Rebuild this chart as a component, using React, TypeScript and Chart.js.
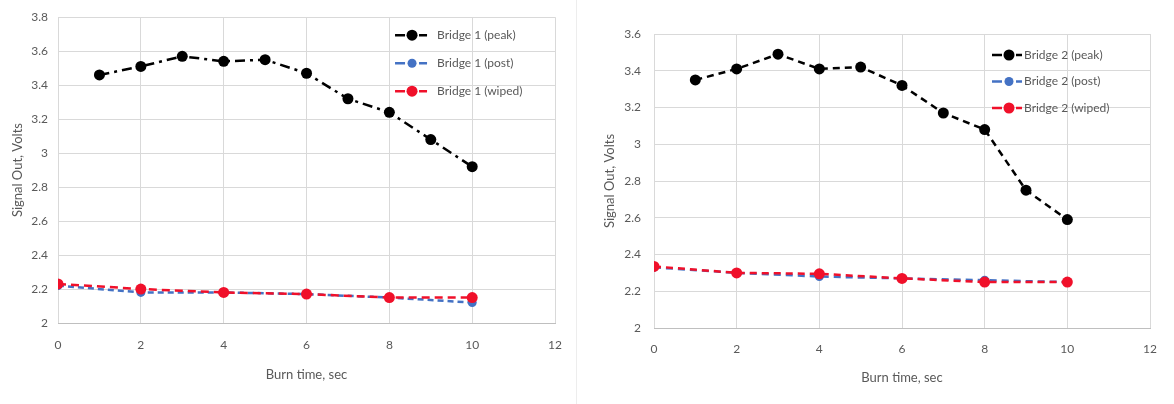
import React, { useEffect, useRef } from "react";
import { Chart, registerables } from "chart.js";

Chart.register(...registerables);

// ---- Data ----
const peakTimes = [1, 2, 3, 4, 5, 6, 7, 8, 9, 10];
const postWipedTimes = [0, 2, 4, 6, 8, 10];

const bridge1Peak = [3.46, 3.51, 3.57, 3.54, 3.55, 3.47, 3.32, 3.24, 3.08, 2.92];
const bridge1Post = [2.22, 2.18, 2.18, 2.17, 2.15, 2.12];
const bridge1Wiped = [2.23, 2.2, 2.18, 2.17, 2.15, 2.15];

const bridge2Peak = [3.35, 3.41, 3.49, 3.41, 3.42, 3.32, 3.17, 3.08, 2.75, 2.59];
const bridge2Post = [2.33, 2.3, 2.28, 2.27, 2.26, 2.25];
const bridge2Wiped = [2.335, 2.3, 2.295, 2.27, 2.25, 2.25];

const bridge1Labels = ["Bridge 1 (peak)", "Bridge 1 (post)", "Bridge 1 (wiped)"];
const bridge2Labels = ["Bridge 2 (peak)", "Bridge 2 (post)", "Bridge 2 (wiped)"];

const xTitle = "Burn time, sec";
const yTitle = "Signal Out, Volts";

const FONT = "Lato, 'Liberation Sans', sans-serif";
const TEXT_COLOR = "#595959";
const BLACK = "#000000";
const BLUE = "#4472c4";
const RED = "#f0102a";

const toPoints = (xs: number[], ys: number[]) => xs.map((x, i) => ({ x, y: ys[i] }));

const inChartLegend = {
  id: "inChartLegend",
  afterDraw(chart: any, _args: any, opts: any) {
    const { ctx, chartArea } = chart;
    const mx = chartArea.right - opts.dx;
    chart.data.datasets.forEach((ds: any, i: number) => {
      const y = chartArea.top + opts.top + i * opts.gap;
      ctx.save();
      ctx.strokeStyle = ds.borderColor;
      ctx.lineWidth = 2.5;
      ctx.setLineDash([]);
      ctx.beginPath();
      ctx.moveTo(mx - opts.segOuter, y);
      ctx.lineTo(mx - opts.segInner, y);
      ctx.moveTo(mx + opts.segInner, y);
      ctx.lineTo(mx + opts.segOuterR, y);
      ctx.stroke();
      ctx.fillStyle = ds.pointBackgroundColor;
      ctx.beginPath();
      ctx.arc(mx, y, ds.pointRadius, 0, Math.PI * 2);
      ctx.fill();
      ctx.fillStyle = TEXT_COLOR;
      ctx.font = `12px ${FONT}`;
      ctx.textBaseline = "middle";
      ctx.textAlign = "left";
      ctx.fillText(ds.label, mx + opts.textDx, y);
      ctx.restore();
    });
  },
};

type Cfg = {
  width: number;
  labels: string[];
  peak: number[];
  post: number[];
  wiped: number[];
  yMax: number;
  peakDash: number[];
  postDash: number[];
  wipedDash: number[];
  pad: { left: number; right: number; top: number; bottom: number };
  yWidth: number;
  xHeight: number;
  yTitlePad: number;
  yTickPad: number;
  xTickPad: number;
  xTitlePadBottom: number;
  legend: any;
};

function LineChart({ cfg }: { cfg: Cfg }) {
  const ref = useRef<HTMLCanvasElement | null>(null);
  useEffect(() => {
    if (!ref.current) return;
    const ds = (
      label: string,
      xs: number[],
      ys: number[],
      color: string,
      dash: number[],
      r: number,
      order: number
    ) => ({
      label,
      data: toPoints(xs, ys),
      borderColor: color,
      backgroundColor: color,
      pointBackgroundColor: color,
      pointBorderColor: color,
      pointRadius: r,
      pointBorderWidth: 0,
      borderWidth: 2.5,
      borderDash: dash,
      tension: 0,
      fill: false,
      order,
    });
    const chart = new Chart(ref.current, {
      type: "line",
      data: {
        datasets: [
          ds(cfg.labels[0], peakTimes, cfg.peak, BLACK, cfg.peakDash, 5.5, 1),
          ds(cfg.labels[1], postWipedTimes, cfg.post, BLUE, cfg.postDash, 4.5, 3),
          ds(cfg.labels[2], postWipedTimes, cfg.wiped, RED, cfg.wipedDash, 5.5, 2),
        ],
      },
      options: {
        responsive: false,
        animation: false,
        layout: { padding: cfg.pad },
        plugins: {
          legend: { display: false },
          tooltip: { enabled: false },
          inChartLegend: cfg.legend,
        } as any,
        scales: {
          x: {
            type: "linear",
            min: 0,
            max: 12,
            ticks: { stepSize: 2, color: TEXT_COLOR, font: { family: FONT, size: 12 }, padding: cfg.xTickPad },
            grid: { color: "#d9d9d9", drawTicks: false },
            border: { color: "#bfbfbf", width: 1 },
            title: {
              display: true,
              text: xTitle,
              color: TEXT_COLOR,
              font: { family: FONT, size: 13 },
              padding: { top: 0, bottom: cfg.xTitlePadBottom },
            },
            afterFit: (s: any) => {
              s.height = cfg.xHeight;
            },
          },
          y: {
            min: 2,
            max: cfg.yMax,
            ticks: {
              stepSize: 0.2,
              color: TEXT_COLOR,
              font: { family: FONT, size: 12 },
              padding: cfg.yTickPad,
              callback: (v: any) => String(Number(Number(v).toFixed(1))),
            },
            grid: { color: "#d9d9d9", drawTicks: false },
            border: { display: false },
            title: {
              display: true,
              text: yTitle,
              color: TEXT_COLOR,
              font: { family: FONT, size: 13 },
              padding: { top: cfg.yTitlePad, bottom: 0 },
            },
            afterFit: (s: any) => {
              s.width = cfg.yWidth;
            },
          },
        },
      },
      plugins: [inChartLegend],
    } as any);
    return () => chart.destroy();
  }, [cfg]);
  return <canvas ref={ref} width={cfg.width} height={404} style={{ display: "block" }} />;
}

const leftCfg: Cfg = {
  width: 577,
  labels: bridge1Labels,
  peak: bridge1Peak,
  post: bridge1Post,
  wiped: bridge1Wiped,
  yMax: 3.8,
  peakDash: [10, 5, 3, 5],
  postDash: [6, 4],
  wipedDash: [8, 5],
  pad: { left: 0, right: 21, top: 17, bottom: 0 },
  yWidth: 58,
  xHeight: 81,
  yTitlePad: 10,
  yTickPad: 10,
  xTickPad: 15,
  xTitlePadBottom: 21,
  legend: { dx: 143, top: 18, gap: 28, segOuter: 17, segInner: 7, segOuterR: 15, textDx: 25 },
};

const rightCfg: Cfg = {
  width: 597,
  labels: bridge2Labels,
  peak: bridge2Peak,
  post: bridge2Post,
  wiped: bridge2Wiped,
  yMax: 3.6,
  peakDash: [7, 5],
  postDash: [7, 5],
  wipedDash: [7, 5],
  pad: { left: 0, right: 24, top: 34, bottom: 0 },
  yWidth: 77,
  xHeight: 76,
  yTitlePad: 25,
  yTickPad: 13,
  xTickPad: 14,
  xTitlePadBottom: 18,
  legend: { dx: 141, top: 21, gap: 26.5, segOuter: 17, segInner: 7, segOuterR: 13, textDx: 15 },
};

export default function App() {
  return (
    <div
      style={{
        position: "fixed",
        left: 0,
        top: 0,
        width: 1174,
        height: 404,
        background: "#ffffff",
        display: "flex",
      }}
    >
      <LineChart cfg={leftCfg} />
      <div style={{ width: 0, borderLeft: "1px solid #ededed", height: 404, marginLeft: -1 }} />
      <LineChart cfg={rightCfg} />
    </div>
  );
}
